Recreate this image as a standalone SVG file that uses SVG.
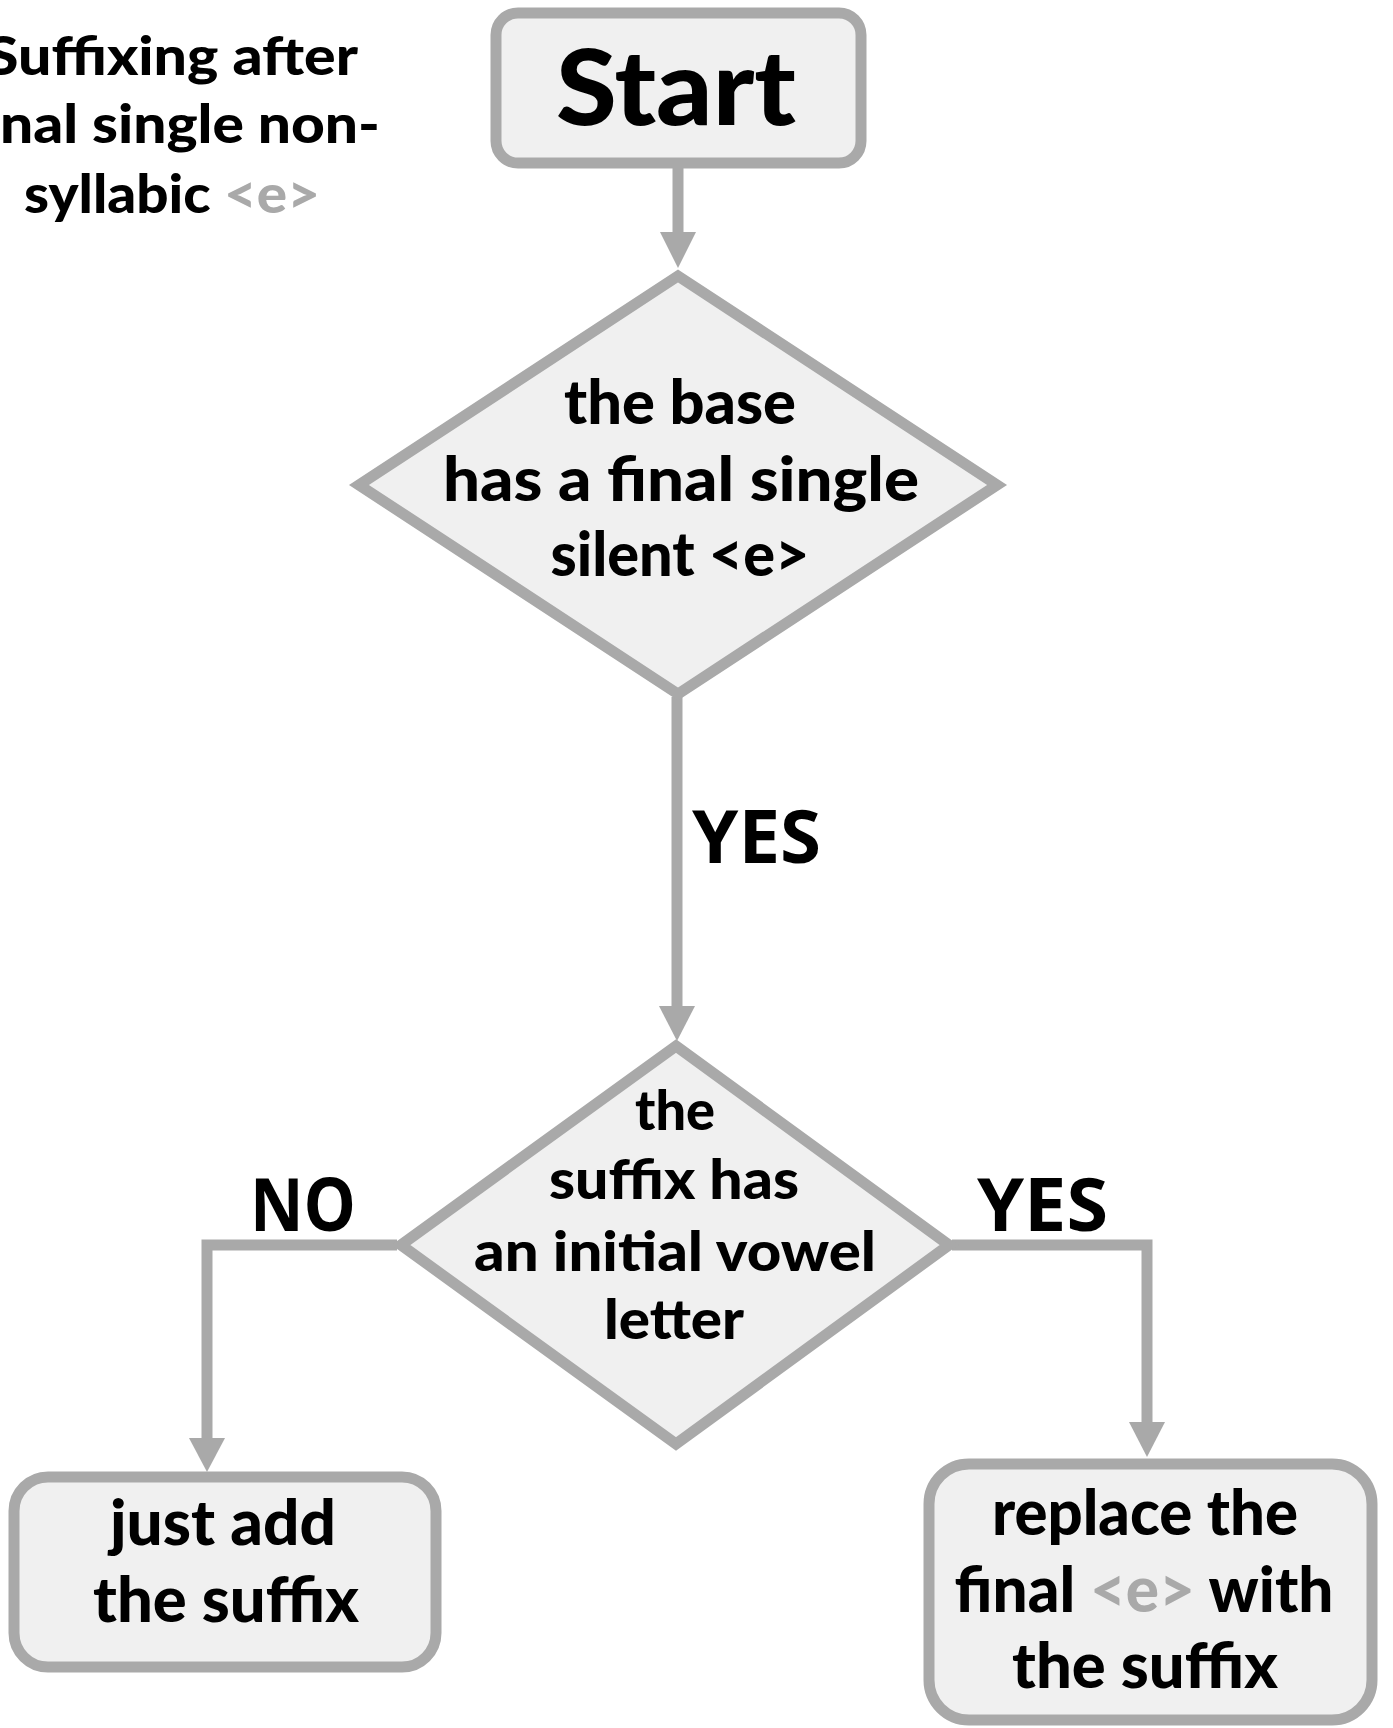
<svg xmlns="http://www.w3.org/2000/svg" width="1393" height="1728" viewBox="0 0 1393 1728">
<style>
.node{fill:#f0f0f0;stroke:#a9a9a9;stroke-width:11}
.edge{fill:none;stroke:#a9a9a9;stroke-width:11}
.head{fill:#a9a9a9}
.t{font-family:Lato,"Open Sans",sans-serif;font-weight:900;fill:#000;text-anchor:middle}
.lbl{font-family:"Open Sans","Liberation Sans",sans-serif;font-weight:700;fill:#000}
.g{fill:#a9a9a9}
</style>
<rect width="1393" height="1728" fill="#fff"/>
<g id="title">
<text class="t" font-size="54" x="172" y="75" textLength="372" lengthAdjust="spacingAndGlyphs">Suffixing after</text>
<text class="t" font-size="54" x="172" y="143" textLength="416" lengthAdjust="spacingAndGlyphs">final single non-</text>
<text class="t" font-size="54" x="172" y="213" textLength="296" lengthAdjust="spacingAndGlyphs">syllabic <tspan class="g">&lt;e&gt;</tspan></text>
</g>
<g id="connectors">
<line class="edge" x1="678" y1="168" x2="678" y2="236"/>
<polygon class="head" points="660,232 696,232 678,268"/>
<line class="edge" x1="677" y1="697" x2="677" y2="1010"/>
<polygon class="head" points="659,1006 695,1006 677,1041"/>
<polyline class="edge" points="397,1245 207,1245 207,1442"/>
<polygon class="head" points="189,1438 225,1438 207,1472"/>
<polyline class="edge" points="952,1245 1147,1245 1147,1426"/>
<polygon class="head" points="1129,1422 1165,1422 1147,1457"/>
<text class="lbl" font-size="74" x="692" y="863" textLength="129" lengthAdjust="spacingAndGlyphs">YES</text>
<text class="lbl" font-size="74" x="250" y="1231" textLength="106" lengthAdjust="spacingAndGlyphs">NO</text>
<text class="lbl" font-size="74" x="977" y="1231" textLength="131" lengthAdjust="spacingAndGlyphs">YES</text>
</g>
<g id="start">
<rect class="node" x="496" y="13" width="365" height="150" rx="22"/>
<text class="t" font-size="104" x="676" y="125" textLength="240" lengthAdjust="spacingAndGlyphs">Start</text>
</g>
<g id="decision1">
<polygon class="node" points="678,276 997,485 678,694 359,485"/>
<text class="t" font-size="60" x="680" y="424" textLength="232" lengthAdjust="spacingAndGlyphs">the base</text>
<text class="t" font-size="60" x="681" y="501" textLength="476" lengthAdjust="spacingAndGlyphs">has a final single</text>
<text class="t" font-size="60" x="680" y="576" textLength="259" lengthAdjust="spacingAndGlyphs">silent &lt;e&gt;</text>
</g>
<g id="decision2">
<polygon class="node" points="676,1046 949,1245 676,1444 401,1245"/>
<text class="t" font-size="56" x="675" y="1130" textLength="80" lengthAdjust="spacingAndGlyphs">the</text>
<text class="t" font-size="56" x="674" y="1199" textLength="250" lengthAdjust="spacingAndGlyphs">suffix has</text>
<text class="t" font-size="56" x="675" y="1271" textLength="402" lengthAdjust="spacingAndGlyphs">an initial vowel</text>
<text class="t" font-size="56" x="674" y="1339" textLength="140" lengthAdjust="spacingAndGlyphs">letter</text>
</g>
<g id="justadd">
<rect class="node" x="14" y="1477" width="422" height="190" rx="34"/>
<text class="t" font-size="62" x="223" y="1545" textLength="226" lengthAdjust="spacingAndGlyphs">just add</text>
<text class="t" font-size="62" x="226" y="1622" textLength="266" lengthAdjust="spacingAndGlyphs">the suffix</text>
</g>
<g id="replace">
<rect class="node" x="929" y="1464" width="443" height="256" rx="40"/>
<text class="t" font-size="62" x="1145" y="1535" textLength="306" lengthAdjust="spacingAndGlyphs">replace the</text>
<text class="t" font-size="62" x="1144" y="1612" textLength="379" lengthAdjust="spacingAndGlyphs">final <tspan class="g">&lt;e&gt;</tspan> with</text>
<text class="t" font-size="62" x="1145" y="1688" textLength="266" lengthAdjust="spacingAndGlyphs">the suffix</text>
</g>
</svg>
